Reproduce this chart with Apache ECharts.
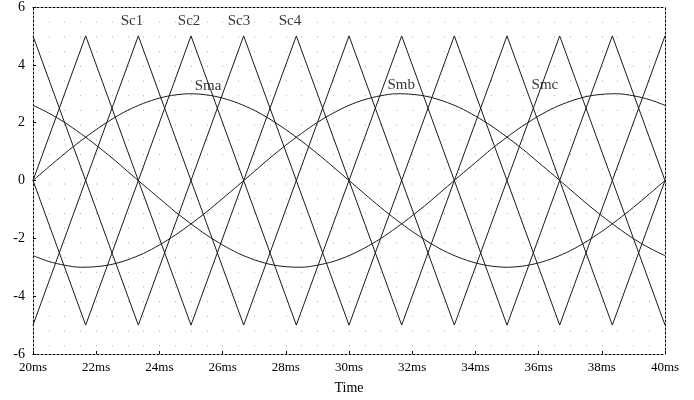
<!DOCTYPE html>
<html>
<head>
<meta charset="utf-8">
<script src="https://cdn.jsdelivr.net/npm/echarts@6/dist/echarts.min.js"></script>
<style>html,body{margin:0;padding:0;background:#fff}#c{width:694px;height:400px}</style>
</head>
<body>
<div id="c"></div>
<script>
// Time samples (ms) for the modulating sine waves
var sineTimes = [20,20.5,21,21.5,22,22.5,23,23.5,24,24.5,25,25.5,26,26.5,27,27.5,28,28.5,29,29.5,30,
                 30.5,31,31.5,32,32.5,33,33.5,34,34.5,35,35.5,36,36.5,37,37.5,38,38.5,39,39.5,40];
var smaValues = [0,0.47,0.93,1.36,1.76,2.12,2.43,2.67,2.85,2.96,3,2.96,2.85,2.67,2.43,2.12,1.76,1.36,0.93,0.47,0,
                 -0.47,-0.93,-1.36,-1.76,-2.12,-2.43,-2.67,-2.85,-2.96,-3,-2.96,-2.85,-2.67,-2.43,-2.12,-1.76,-1.36,-0.93,-0.47,0];
var smbValues = [-2.6,-2.8,-2.93,-3,-2.98,-2.9,-2.74,-2.52,-2.23,-1.89,-1.5,-1.08,-0.62,-0.16,0.31,0.78,1.22,1.63,2.01,2.33,2.6,
                 2.8,2.93,3,2.98,2.9,2.74,2.52,2.23,1.89,1.5,1.08,0.62,0.16,-0.31,-0.78,-1.22,-1.63,-2.01,-2.33,-2.6];
var smcValues = [2.6,2.33,2.01,1.63,1.22,0.78,0.31,-0.16,-0.62,-1.08,-1.5,-1.89,-2.23,-2.52,-2.74,-2.9,-2.98,-3,-2.93,-2.8,-2.6,
                 -2.33,-2.01,-1.63,-1.22,-0.78,-0.31,0.16,0.62,1.08,1.5,1.89,2.23,2.52,2.74,2.9,2.98,3,2.93,2.8,2.6];

// Triangular carriers: vertex times (ms) and values
var sc1Times = [20,23.333,26.667,30,33.333,36.667,40];
var sc1Values = [-5,5,-5,5,-5,5,-5];
var sc2Times = [20,21.667,25,28.333,31.667,35,38.333,40];
var sc2Values = [0,-5,5,-5,5,-5,5,0];
var sc3Times = [20,23.333,26.667,30,33.333,36.667,40];
var sc3Values = [5,-5,5,-5,5,-5,5];
var sc4Times = [20,21.667,25,28.333,31.667,35,38.333,40];
var sc4Values = [0,5,-5,5,-5,5,-5,0];

// Annotations
var labelNames = ['Sc1','Sc2','Sc3','Sc4','Sma','Smb','Smc'];
var labelX = [23.13,24.94,26.52,28.13,25.54,31.65,36.2];
var labelY = [5.5,5.5,5.5,5.5,3.27,3.3,3.3];

// Axis ticks
var xMin = 20, xMax = 40, xStep = 2;
var yMin = -6, yMax = 6, yStep = 2;

function zip(xs, ys){ return xs.map(function(x,i){ return [x, ys[i]]; }); }

var FONT = 'Liberation Serif';
var lineColor = '#1a1a1a';

function lineSeries(name, xs, ys, smooth){
  return {
    name: name, type: 'line', data: zip(xs, ys), smooth: smooth ? 0.3 : false,
    showSymbol: false, symbol: 'none',
    lineStyle: {color: lineColor, width: 1},
    xAxisIndex: 0, yAxisIndex: 0, z: 3
  };
}

var chart = echarts.init(document.getElementById('c'));
chart.setOption({
  animation: false,
  backgroundColor: '#fff',
  grid: {left: 33, right: 29, top: 5, bottom: 42, containLabel: false},
  xAxis: [{
    type: 'value', min: xMin, max: xMax, interval: xStep,
    name: 'Time', nameLocation: 'middle', nameGap: 27,
    nameTextStyle: {fontFamily: FONT, fontSize: 14, color: '#000'},
    axisLine: {show: true, onZero: false, lineStyle: {color: '#000', type: [2, 2], width: 1}},
    axisTick: {show: true, length: 3, inside: true, lineStyle: {color: '#000'}},
    axisLabel: {formatter: '{value}ms', fontFamily: FONT, fontSize: 13, color: '#000', margin: 7},
    splitLine: {show: true, lineStyle: {color: '#a8a8a8', width: 1, type: [1, 13.71]}},
    minorTick: {show: false, splitNumber: 4},
    minorSplitLine: {show: true, lineStyle: {color: '#a8a8a8', width: 1, type: [1, 13.71]}}
  }, {
    type: 'value', min: xMin, max: xMax, interval: xStep, position: 'top',
    axisLine: {show: true, onZero: false, lineStyle: {color: '#000', type: [2, 2], width: 1}},
    axisTick: {show: false}, axisLabel: {show: false}, splitLine: {show: false}
  }],
  yAxis: [{
    type: 'value', min: yMin, max: yMax, interval: yStep,
    axisLine: {show: true, onZero: false, lineStyle: {color: '#000', type: [2, 2], width: 1}},
    axisTick: {show: true, length: 3, inside: true, lineStyle: {color: '#000'}},
    axisLabel: {fontFamily: FONT, fontSize: 14, color: '#000', margin: 8},
    splitLine: {show: false}
  }, {
    type: 'value', min: yMin, max: yMax, interval: yStep, position: 'right',
    axisLine: {show: true, onZero: false, lineStyle: {color: '#000', type: [2, 2], width: 1}},
    axisTick: {show: false}, axisLabel: {show: false}, splitLine: {show: false}
  }],
  series: [
    lineSeries('Sc1', sc1Times, sc1Values, false),
    lineSeries('Sc2', sc2Times, sc2Values, false),
    lineSeries('Sc3', sc3Times, sc3Values, false),
    lineSeries('Sc4', sc4Times, sc4Values, false),
    lineSeries('Sma', sineTimes, smaValues, true),
    lineSeries('Smb', sineTimes, smbValues, true),
    lineSeries('Smc', sineTimes, smcValues, true),
    {
      type: 'scatter', symbolSize: 0, z: 5,
      data: labelNames.map(function(n,i){ return {value: [labelX[i], labelY[i]], name: n}; }),
      label: {show: true, position: 'inside', formatter: '{b}', fontFamily: FONT, fontSize: 15, color: '#000'},
      silent: true
    }
  ]
});
</script>
</body>
</html>
